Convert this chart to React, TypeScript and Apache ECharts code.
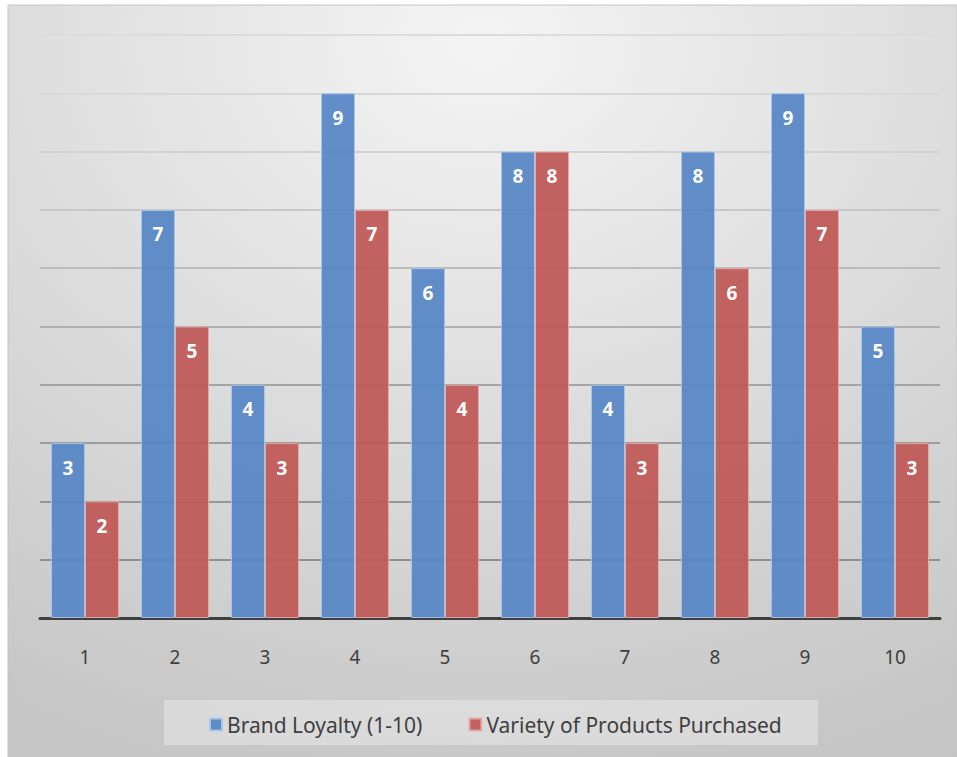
import React, { useEffect, useRef } from "react";
import * as echarts from "echarts";

const categories = ["1", "2", "3", "4", "5", "6", "7", "8", "9", "10"];
const brandLoyalty = [3, 7, 4, 9, 6, 8, 4, 8, 9, 5];
const varietyPurchased = [2, 5, 3, 7, 4, 8, 3, 6, 7, 3];
const seriesNames = ["Brand Loyalty (1-10)", "Variety of Products Purchased"];

const FONT = "'Noto Sans', 'Open Sans', sans-serif";

export default function App() {
  const ref = useRef<HTMLDivElement>(null);
  useEffect(() => {
    if (!ref.current) return;
    const chart = echarts.init(ref.current, undefined, { renderer: "svg" });
    const label = {
      show: true,
      position: "insideTop",
      distance: 15,
      color: "#ffffff",
      fontWeight: "bold",
      fontSize: 19,
      fontFamily: FONT,
    };
    chart.setOption({
      animation: false,
      backgroundColor: "#ffffff",
      graphic: [
        {
          type: "rect",
          z: -10,
          silent: true,
          shape: { x: 8, y: 5, width: 949, height: 752 },
          style: {
            fill: {
              type: "radial",
              x: 0.5,
              y: 0.05,
              r: 1.0,
              colorStops: [
                { offset: 0, color: "#f4f4f4" },
                { offset: 1, color: "#c6c6c6" },
              ],
            },
            stroke: "#c4c4c4",
            lineWidth: 1,
          },
        },
        {
          type: "rect",
          z: -5,
          silent: true,
          shape: { x: 164, y: 700, width: 654, height: 45 },
          style: { fill: "rgba(240,240,240,0.45)" },
        },
      ],
      grid: { left: 40, right: 17, top: 35, bottom: 139 },
      legend: {
        data: seriesNames,
        left: 204,
        top: 709,
        itemWidth: 12,
        itemHeight: 12,
        itemGap: 46,
        icon: "rect",
        textStyle: { color: "#404040", fontSize: 21, fontFamily: FONT },
      },
      xAxis: {
        type: "category",
        data: categories,
        axisTick: { show: false },
        axisLine: { lineStyle: { color: "#3f3f3f", width: 3 } },
        axisLabel: { color: "#404040", fontSize: 19, fontFamily: FONT, margin: 29 },
      },
      yAxis: {
        type: "value",
        min: 0,
        max: 10,
        interval: 1,
        axisLabel: { show: false },
        axisLine: { show: false },
        axisTick: { show: false },
        splitLine: {
          lineStyle: {
            width: 2,
            color: [
              "#8a8a8a",
              "#909090",
              "#969696",
              "#9c9c9c",
              "#a4a4a4",
              "#b0b0b0",
              "#bcbcbc",
              "#c8c8c8",
              "#d2d2d2",
              "#d8d8d8",
              "#dcdcdc",
            ],
          },
        },
      },
      series: [
        {
          name: seriesNames[0],
          type: "bar",
          data: brandLoyalty,
          barWidth: 34,
          barGap: "0%",
          itemStyle: {
            color: "rgba(86,134,198,0.93)",
            borderColor: "rgba(170,200,235,0.9)",
            borderWidth: 1,
          },
          label,
        },
        {
          name: seriesNames[1],
          type: "bar",
          data: varietyPurchased,
          barWidth: 34,
          barGap: "0%",
          itemStyle: {
            color: "rgba(192,88,86,0.93)",
            borderColor: "rgba(230,170,170,0.9)",
            borderWidth: 1,
          },
          label,
        },
      ],
    });
    return () => chart.dispose();
  }, []);
  return (
    <div
      ref={ref}
      style={{ position: "absolute", left: 0, top: 0, width: 957, height: 757 }}
    />
  );
}
